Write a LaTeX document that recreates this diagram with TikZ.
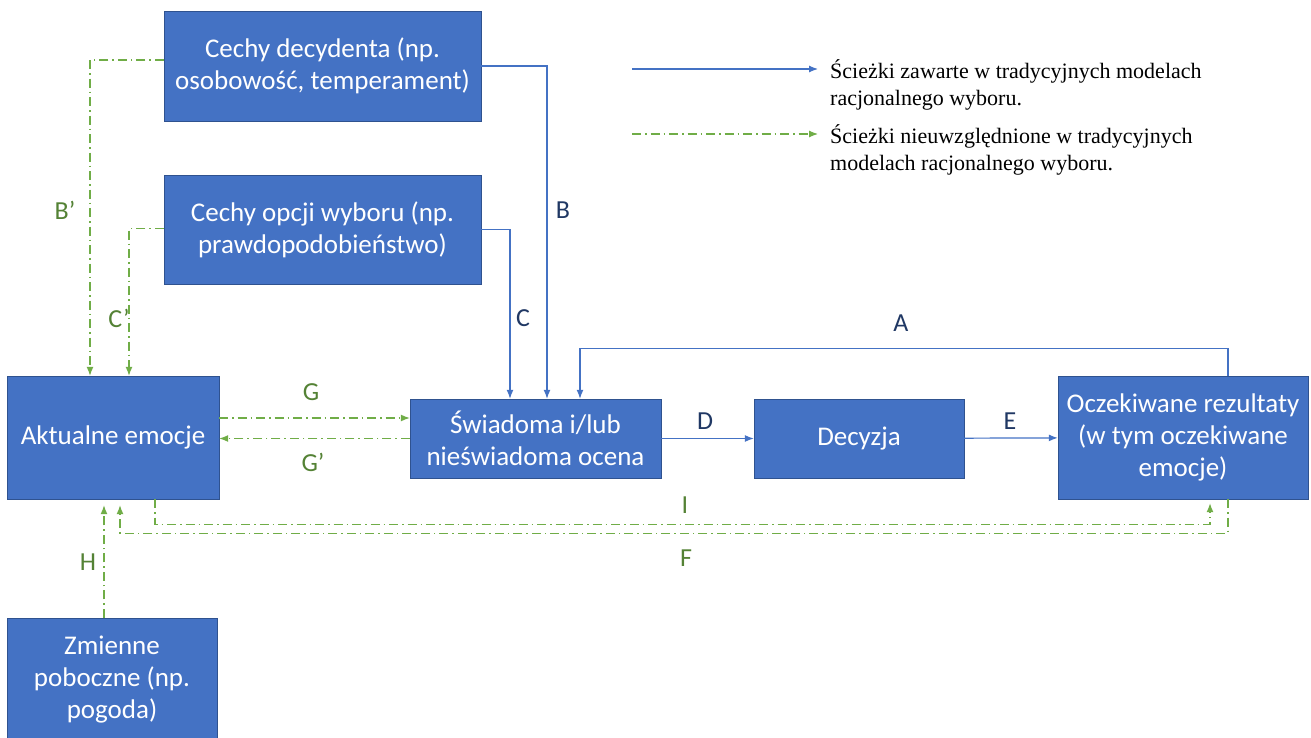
\documentclass[tikz,border=0pt]{standalone}
\usepackage{fontspec}
\setmainfont{Carlito}
\newfontfamily\legendfont{Liberation Serif}
\usepackage{tikz}
\usetikzlibrary{arrows,arrows.meta}
\definecolor{boxblue}{HTML}{4472C4}
\definecolor{boxedge}{HTML}{2F528F}
\definecolor{pathgreen}{HTML}{70AD47}
\definecolor{labnavy}{HTML}{203864}
\definecolor{labgreen}{HTML}{548235}
\tikzset{
 box/.style = {draw=boxedge, fill=boxblue, text=white, align=center, inner sep=2pt,
   font=\fontsize{27}{32}\selectfont},
 rational/.style = {boxblue, line width=1.2pt, -{Latex[length=9pt,width=7pt]}},
 extra/.style = {pathgreen, line width=1.2pt, -{Latex[length=9pt,width=7pt]},
   dash pattern=on 9pt off 4pt on 1.5pt off 4pt},
 lab/.style = {font=\fontsize{26}{30}\selectfont, text=labnavy},
 glab/.style = {font=\fontsize{26}{30}\selectfont, text=labgreen},
 legtext/.style = {anchor=west, align=left, inner sep=0pt, font=\legendfont\fontsize{22}{26.5}\selectfont}
}

\begin{document}
\begin{tikzpicture} [x=1pt, y=-1pt]
\useasboundingbox (0,0) rectangle (1311,738);
% boxes
\node[box, minimum width=317pt, minimum height=110pt] (decyd) at (322.5,66) {Cechy decydenta (np.\\osobowość, temperament)};
\node[box, minimum width=317pt, minimum height=109pt] (opcje) at (322.5,229.5) {Cechy opcji wyboru (np.\\prawdopodobieństwo)};
\node[box, minimum width=212pt, minimum height=123pt] (aktem) at (113,437.5) {Aktualne emocje};
\node[box, minimum width=251pt, minimum height=79pt] (ocena) at (535.5,438.5) {Świadoma i/lub\\nieświadoma ocena};
\node[box, minimum width=210pt, minimum height=79pt] (decyzja) at (859,438.5) {Decyzja};
\node[box, minimum width=250pt, minimum height=123pt] (rezult) at (1183,437.5) {Oczekiwane rezultaty\\(w tym oczekiwane\\emocje)};
\node[box, minimum width=210pt, minimum height=124pt] (zmienne) at (112,680) {Zmienne\\poboczne (np.\\pogoda)};

% paths of the rational choice models
\draw[rational] (decyd.east) -| ([xshift=11.5pt]ocena.north);
\draw[rational] (opcje.east) -| ([xshift=-25.5pt]ocena.north);
\draw[rational] ([xshift=45pt]rezult.north) -- ++(0,-27) -| ([xshift=44.5pt]ocena.north);
\draw[rational] (ocena) -- (decyzja);
\draw[rational] (decyzja) -- (rezult);

% paths left out of them
\draw[extra] ([yshift=6pt]decyd.west) -| ([xshift=-23pt]aktem.north);
\draw[extra] ([yshift=1pt]opcje.west) -| ([xshift=16pt]aktem.north);
\coordinate (gin) at ([yshift=19.5pt]aktem.east);
\draw[extra] (gin) -- (gin -| ocena.west);
\draw[extra] (ocena.west) -- (ocena.west -| aktem.east);
\draw[extra, shorten >=4pt] ([xshift=42pt]aktem.south) -- ++(0,25) -| ([xshift=27pt]rezult.south);
\draw[extra, shorten >=6pt] ([xshift=45pt]rezult.south) -- ++(0,34) -| ([xshift=7pt]aktem.south);
\draw[extra, shorten >=6pt] ([xshift=-8pt]zmienne.north) -- ([xshift=-9pt]aktem.south);

% letters
\node[lab] (labA) at (901,323) {A};
\node[lab] (labB) at (563,210) {B};
\node[lab] (labC) at (523,318) {C};
\node[lab] (labD) at (705,421) {D};
\node[lab] (labE) at (1010,421) {E};
\node[glab] (labBp) at (65,210) {B’};
\node[glab] (labCp) at (119,318) {C’};
\node[glab] (labG) at (311,392) {G};
\node[glab] (labGp) at (313,462) {G’};
\node[glab] (labI) at (685,505) {I};
\node[glab] (labF) at (686,558) {F};
\node[glab] (labH) at (88,562) {H};

% legend
\coordinate (leg1a) at (632,69);
\coordinate (leg1b) at (818,69);
\coordinate (leg2a) at (632,134);
\coordinate (leg2b) at (818,134);
\draw[rational] (leg1a) -- (leg1b);
\draw[extra] (leg2a) -- (leg2b);
\node[legtext] (leg1) at (830,85) {Ścieżki zawarte w tradycyjnych modelach\\racjonalnego wyboru.};
\node[legtext] (leg2) at (830,150) {Ścieżki nieuwzględnione w tradycyjnych\\modelach racjonalnego wyboru.};
\end{tikzpicture}
\end{document}
